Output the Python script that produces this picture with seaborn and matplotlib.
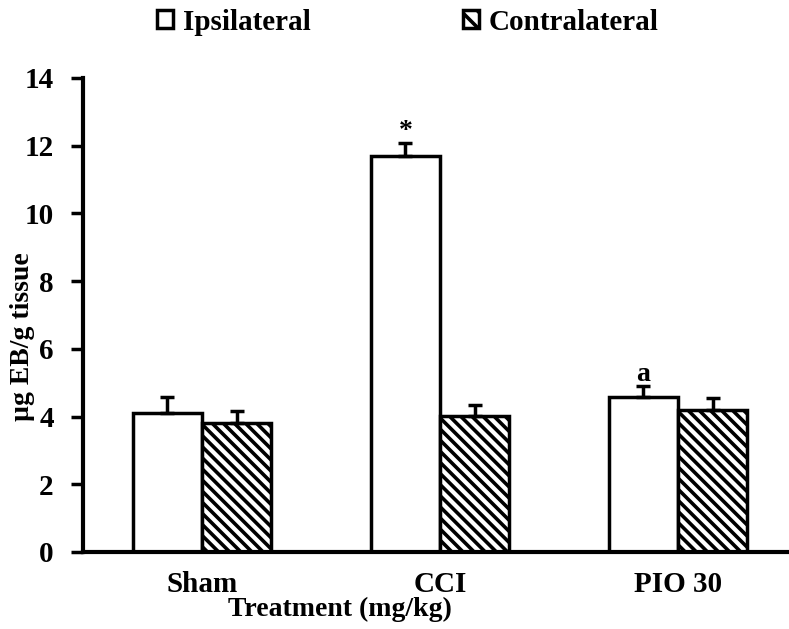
import numpy as np
import pandas as pd
import matplotlib
matplotlib.use('Agg')
import matplotlib.pyplot as plt
import seaborn as sb
from matplotlib.patches import Patch

groups = ['Sham', 'CCI', 'PIO 30']
sides = ['Ipsilateral', 'Contralateral']
ipsi = [4.12, 11.7, 4.58]
contra = [3.8, 4.02, 4.18]
ipsi_se = [0.45, 0.38, 0.32]
contra_se = [0.35, 0.32, 0.36]
marks = ['', '*', 'a']

sb.set_style('white')
plt.rcParams['font.family'] = ['Liberation Serif', 'DejaVu Serif']
plt.rcParams['font.weight'] = 'bold'
plt.rcParams['text.color'] = 'black'
plt.rcParams['xtick.color'] = 'black'
plt.rcParams['ytick.color'] = 'black'
plt.rcParams['hatch.linewidth'] = 2.6

df = pd.DataFrame({
    'Treatment': groups * 2,
    'Side': [sides[0]] * 3 + [sides[1]] * 3,
    'EB': ipsi + contra,
})

fig = plt.figure(figsize=(7.89, 6.29), dpi=100)
ax = fig.add_axes([83 / 789, 77 / 629, 714 / 789, 474 / 629])

sb.barplot(data=df, x='Treatment', y='EB', hue='Side', order=groups,
           hue_order=sides, palette=['white', 'white'], width=0.58, gap=0,
           errorbar=None, edgecolor='black', linewidth=2.5, legend=False,
           ax=ax)

bars = [p for p in ax.patches if p.get_height() > 0]
ses = ipsi_se + contra_se
for i, p in enumerate(bars):
    if i >= 3:
        p.set_hatch('\\\\\\')
    xc = p.get_x() + p.get_width() / 2
    h = p.get_height()
    ax.errorbar([xc], [h], yerr=[[0], [ses[i]]], fmt='none', ecolor='black',
                elinewidth=2.5, capsize=5, capthick=2.5, zorder=5)
    if i < 3 and marks[i]:
        ax.text(xc, h + ses[i] - 0.04, marks[i], ha='center', va='bottom',
                fontsize=20, fontweight='bold', color='black')

ax.set_xlim(-0.5, 2.5)
ax.set_ylim(0, 14)
ax.set_yticks(range(0, 15, 2))
ax.set_xlabel('')
ax.set_ylabel('')
for s in ['top', 'right']:
    ax.spines[s].set_visible(False)
for s in ['left', 'bottom']:
    ax.spines[s].set_linewidth(3)
    ax.spines[s].set_color('black')
ax.tick_params(axis='y', direction='out', length=9, width=2.5, labelsize=21,
               pad=12, left=True, colors='black')
ax.tick_params(axis='x', length=0, labelsize=21, pad=14, colors='black')
for t in ax.get_xticklabels() + ax.get_yticklabels():
    t.set_fontweight('bold')

fig.text(23 / 789, 1 - 337 / 629, 'µg EB/g tissue', rotation=90, ha='center',
         va='center', fontsize=20, fontweight='bold', color='black')
fig.text(340 / 789, 1 - 609 / 629, 'Treatment (mg/kg)', ha='center',
         va='center', fontsize=20, fontweight='bold', color='black')

handles = [Patch(facecolor='white', edgecolor='black', linewidth=2.5),
           Patch(facecolor='white', edgecolor='black', linewidth=2.5,
                 hatch='\\\\')]
leg = fig.legend(handles, sides, loc='center',
                 bbox_to_anchor=(408 / 789, 1 - 22 / 629),
                 ncol=2, frameon=False, handlelength=0.55,
                 handleheight=0.55, handletextpad=0.35, columnspacing=5.2,
                 prop={'weight': 'bold', 'size': 21})
for t in leg.get_texts():
    t.set_color('black')

fig.savefig('out.png', dpi=100)
